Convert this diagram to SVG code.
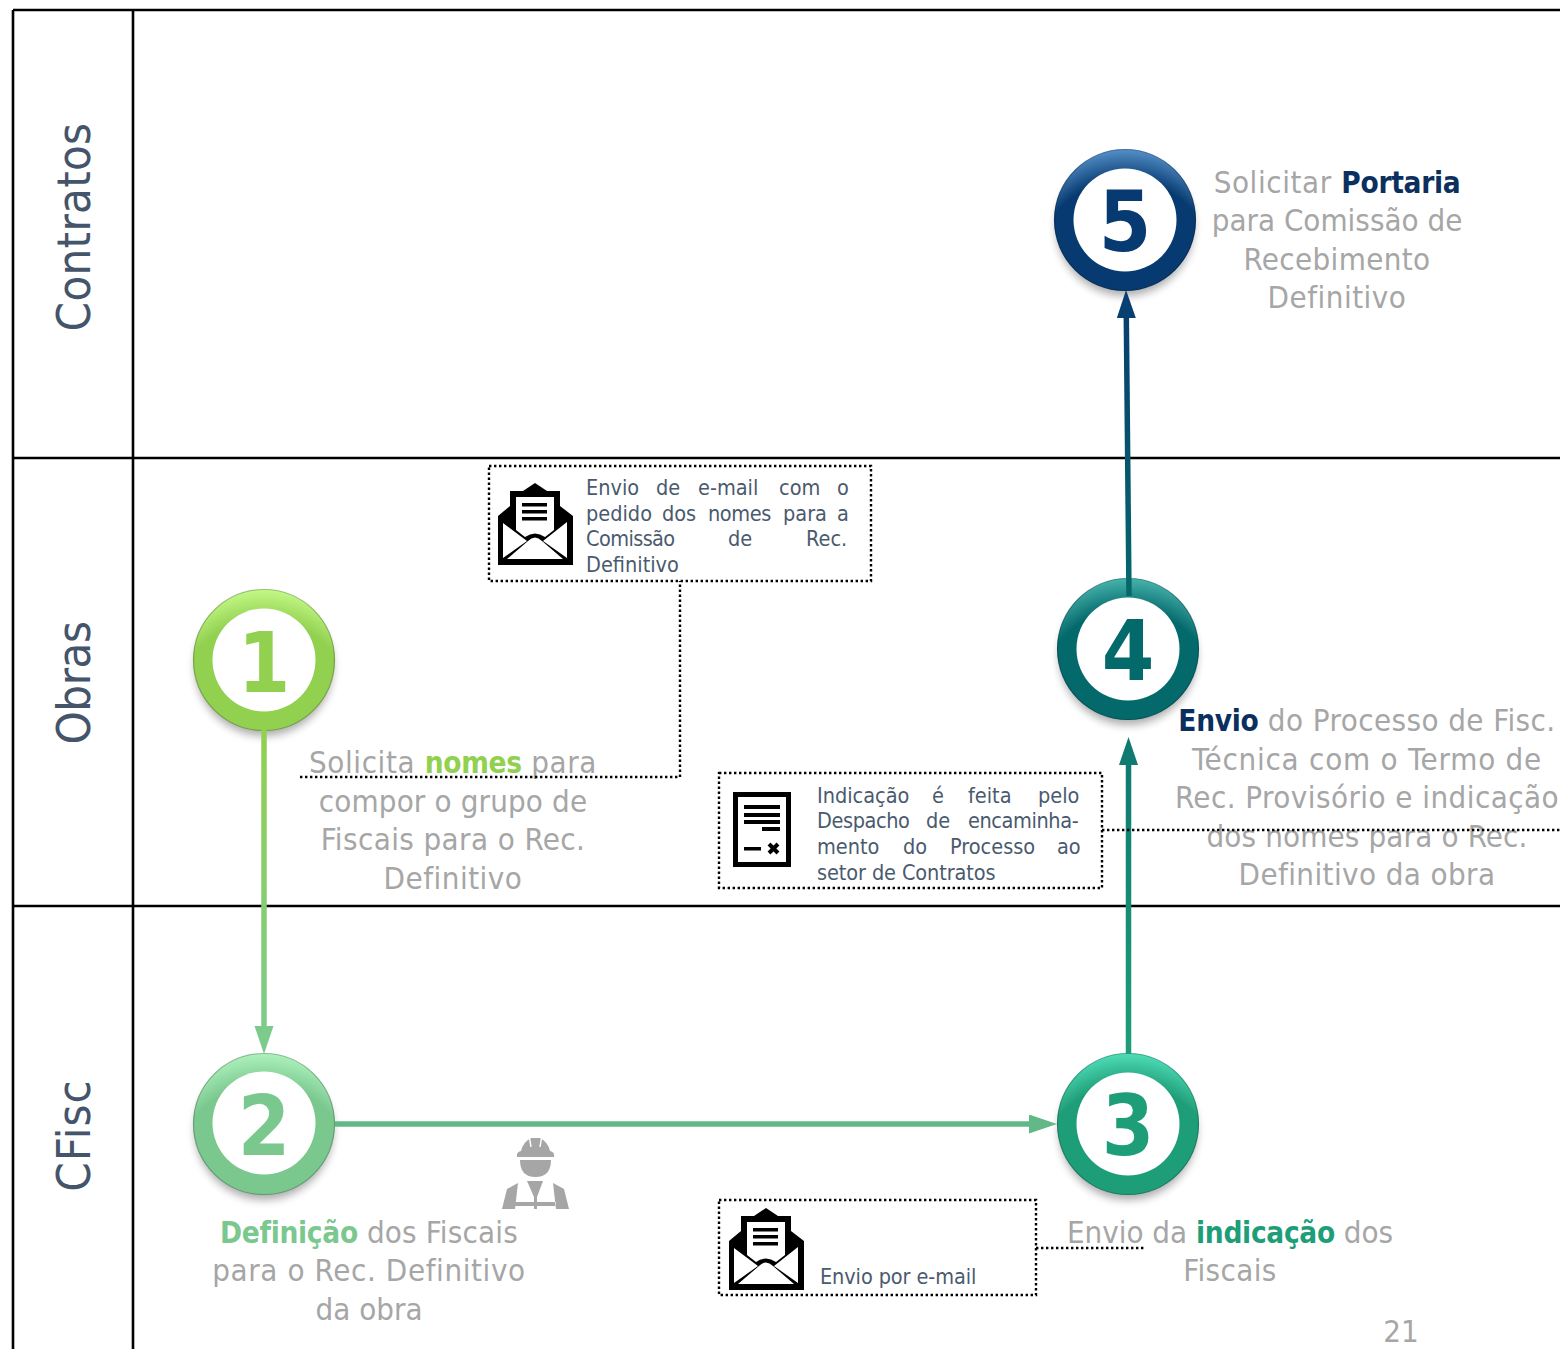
<svg xmlns="http://www.w3.org/2000/svg" xmlns:xlink="http://www.w3.org/1999/xlink" width="1560" height="1349" viewBox="0 0 1560 1349">
<style>
text{font-family:"DejaVu Sans","Noto Sans",sans-serif;font-stretch:condensed}
.lane{fill:none;stroke:#000;stroke-width:2.6}
.lt{font-size:47px;fill:#44546A;text-anchor:middle}
.d{font-size:31px;fill:#A6A6A6;text-anchor:middle}
.b{font-weight:bold;font-size:29.5px;letter-spacing:-.3px}
.s{font-size:21.5px;fill:#4A5A6E}
.n{font-size:84px;font-weight:bold;text-anchor:middle}
.dot{fill:none;stroke:#000;stroke-width:2.4;stroke-dasharray:2.4 2.6}
.c{fill:none;stroke-width:5.5}
.hole{fill:#fff}
.shadow{fill:#000;opacity:.32}
.edge{fill:none;stroke:#000;stroke-opacity:.22;stroke-width:1.2}
</style>
<defs>
<filter id="sh" x="-20%" y="-20%" width="140%" height="150%"><feGaussianBlur stdDeviation="4"/></filter>
<radialGradient id="h1" cx="50%" cy="85%" r="85%"><stop offset=".74" stop-color="#92D050"/><stop offset="1" stop-color="#C4FA88"/></radialGradient>
<radialGradient id="h2" cx="50%" cy="85%" r="85%"><stop offset=".74" stop-color="#7BC88F"/><stop offset="1" stop-color="#AEF2BE"/></radialGradient>
<radialGradient id="h3" cx="50%" cy="85%" r="85%"><stop offset=".74" stop-color="#1E9E78"/><stop offset="1" stop-color="#50DDB8"/></radialGradient>
<radialGradient id="h4" cx="50%" cy="85%" r="85%"><stop offset=".74" stop-color="#04696A"/><stop offset="1" stop-color="#48B4AE"/></radialGradient>
<radialGradient id="h5" cx="50%" cy="85%" r="85%"><stop offset=".74" stop-color="#063A70"/><stop offset="1" stop-color="#5590C8"/></radialGradient>
<linearGradient id="l1" gradientUnits="userSpaceOnUse" x1="264" y1="730" x2="264.010" y2="1030"><stop offset="0" stop-color="#92D050"/><stop offset="1" stop-color="#7DCB8A"/></linearGradient>
<linearGradient id="l3" gradientUnits="userSpaceOnUse" x1="1128.500" y1="1054" x2="1128.510" y2="763"><stop offset="0" stop-color="#1E9E78"/><stop offset="1" stop-color="#0F7A70"/></linearGradient>
<linearGradient id="l2" gradientUnits="userSpaceOnUse" x1="1129" y1="596" x2="1126" y2="316"><stop offset="0" stop-color="#04696A"/><stop offset="1" stop-color="#073F70"/></linearGradient>
<marker id="a1" markerUnits="userSpaceOnUse" markerWidth="30" markerHeight="20" refX="2" refY="9.500" orient="auto"><path d="M0 0L28 9.500L0 19z" fill="#7DCB8A"/></marker>
<marker id="a2" markerUnits="userSpaceOnUse" markerWidth="30" markerHeight="20" refX="2" refY="9.500" orient="auto"><path d="M0 0L28 9.500L0 19z" fill="#62B886"/></marker>
<marker id="a3" markerUnits="userSpaceOnUse" markerWidth="30" markerHeight="20" refX="2" refY="9.500" orient="auto"><path d="M0 0L28 9.500L0 19z" fill="#0F7A70"/></marker>
<marker id="a4" markerUnits="userSpaceOnUse" markerWidth="30" markerHeight="20" refX="2" refY="9.500" orient="auto"><path d="M0 0L28 9.500L0 19z" fill="#073F70"/></marker>
<g id="env">
<path d="M535 483L547 491H560V506L573 516V565H498V516L510 506V491H523Z" fill="#000"/>
<path d="M516 497H554V530L545 537Q535 530 525 537L516 530Z" fill="#fff"/>
<path d="M522 503H547V506.500H522ZM522 510H547V513.500H522ZM522 517H547V520.500H522Z" fill="#000"/>
<path d="M503 523L527 541L503 558ZM567 522L543 541L567 558ZM507 559L528 541Q535 534 542 541L563 559Z" fill="#fff"/>
</g>
</defs>

<g id="lanes">
<path class="lane" d="M13 10H1560M13 458H1560M13 906H1560M13 10V1349M133 10V1349"/>
<text class="lt" transform="translate(90 227) rotate(-90)" letter-spacing=".25">Contratos</text>
<text class="lt" transform="translate(90 683) rotate(-90)" letter-spacing="-.5">Obras</text>
<text class="lt" transform="translate(90 1135.500) rotate(-90)" letter-spacing="1">CFisc</text>
</g>

<g id="node1"><circle class="shadow" cx="264" cy="667" r="69" filter="url(#sh)"/><circle cx="264" cy="660" r="71" fill="url(#h1)"/><circle class="edge" cx="264" cy="660" r="70.500"/><circle class="hole" cx="264" cy="660" r="51.500"/><text class="n" x="264" y="692" fill="#92D050">1</text></g>
<g id="node2"><circle class="shadow" cx="264" cy="1131" r="69" filter="url(#sh)"/><circle cx="264" cy="1124" r="71" fill="url(#h2)"/><circle class="edge" cx="264" cy="1124" r="70.500"/><circle class="hole" cx="264" cy="1123" r="51.500"/><text class="n" x="264" y="1155" fill="#7BC88F">2</text></g>
<g id="node3"><circle class="shadow" cx="1128" cy="1131" r="69" filter="url(#sh)"/><circle cx="1128" cy="1124" r="71" fill="url(#h3)"/><circle class="edge" cx="1128" cy="1124" r="70.500"/><circle class="hole" cx="1128" cy="1124" r="51.500"/><text class="n" x="1128" y="1155" fill="#1E9E78">3</text></g>
<g id="node4"><circle class="shadow" cx="1128" cy="656" r="69" filter="url(#sh)"/><circle cx="1128" cy="649" r="71" fill="url(#h4)"/><circle class="edge" cx="1128" cy="649" r="70.500"/><circle class="hole" cx="1128" cy="649" r="51.500"/><text class="n" x="1128" y="680" fill="#04696A">4</text></g>
<g id="node5"><circle class="shadow" cx="1125" cy="227" r="69" filter="url(#sh)"/><circle cx="1125" cy="220" r="71" fill="url(#h5)"/><circle class="edge" cx="1125" cy="220" r="70.500"/><circle class="hole" cx="1125" cy="220" r="51.500"/><text class="n" x="1125" y="251" fill="#063A70">5</text></g>

<g id="connectors">
<path class="c" d="M264 730V1028" stroke="url(#l1)" marker-end="url(#a1)"/>
<path class="c" d="M335 1124H1031" stroke="#62B886" marker-end="url(#a2)"/>
<path class="c" d="M1128.500 1054V763" stroke="url(#l3)" marker-end="url(#a3)"/>
<path class="c" d="M1129 596L1126.300 316" stroke="url(#l2)" marker-end="url(#a4)"/>
</g>

<g id="label1"><text class="d"><tspan x="453" y="773" letter-spacing=".6">Solicita <tspan class="b" fill="#92D050">nomes</tspan> para</tspan><tspan x="453" y="812" letter-spacing=".15">compor o grupo de</tspan><tspan x="453" y="850" letter-spacing=".4">Fiscais para o Rec.</tspan><tspan x="453" y="889" letter-spacing=".5">Definitivo</tspan></text></g>
<g id="label2"><text class="d"><tspan x="369" y="1243" letter-spacing=".2"><tspan class="b" fill="#7BC88F">Definição</tspan> dos Fiscais</tspan><tspan x="369" y="1281" letter-spacing=".6">para o Rec. Definitivo</tspan><tspan x="369" y="1320">da obra</tspan></text></g>
<g id="label3"><text class="d"><tspan x="1230" y="1243"><tspan>Envio da </tspan><tspan class="b" fill="#1E9E78">indicação</tspan> dos</tspan><tspan x="1230" y="1281" letter-spacing=".4">Fiscais</tspan></text></g>
<g id="label4"><text class="d"><tspan x="1367" y="731" letter-spacing=".43"><tspan class="b" fill="#0B2F5E">Envio</tspan> do Processo de Fisc.</tspan><tspan x="1367" y="770" letter-spacing=".77">Técnica com o Termo de</tspan><tspan x="1367" y="808" letter-spacing=".45">Rec. Provisório e indicação</tspan><tspan x="1367" y="847" letter-spacing=".15">dos nomes para o Rec.</tspan><tspan x="1367" y="885" letter-spacing=".4">Definitivo da obra</tspan></text></g>
<g id="label5"><text class="d"><tspan x="1337" y="193" letter-spacing=".6">Solicitar <tspan class="b" fill="#0B2F5E">Portaria</tspan></tspan><tspan x="1337" y="231">para Comissão de</tspan><tspan x="1337" y="270" letter-spacing=".35">Recebimento</tspan><tspan x="1337" y="308" letter-spacing=".5">Definitivo</tspan></text></g>

<g id="note-email">
<rect class="dot" x="489" y="466" width="382" height="115"/>
<use xlink:href="#env" href="#env"/>
<text class="s"><tspan x="586" y="495">Envio</tspan><tspan x="656" y="495">de</tspan><tspan x="698" y="495">e-mail</tspan><tspan x="779" y="495">com</tspan><tspan x="837" y="495">o</tspan><tspan x="586" y="521">pedido</tspan><tspan x="662" y="521">dos</tspan><tspan x="708" y="521" letter-spacing="-.4">nomes</tspan><tspan x="783" y="521">para</tspan><tspan x="837" y="521">a</tspan><tspan x="586" y="546" letter-spacing="-.6">Comissão</tspan><tspan x="728" y="546">de</tspan><tspan x="806" y="546">Rec.</tspan><tspan x="586" y="572">Definitivo</tspan></text>
</g>
<g id="note-despacho">
<rect class="dot" x="719" y="773" width="383" height="115"/>
<rect x="735.500" y="794.500" width="53" height="70" fill="#fff" stroke="#000" stroke-width="5"/>
<path d="M744 805H780V809H744ZM744 813H780V817H744ZM744 820H780V824H744ZM762 827H780V831H762ZM744 847H761V850.500H744Z" fill="#000"/>
<path d="M769 844L778 853M778 844L769 853" stroke="#000" stroke-width="4" fill="none"/>
<text class="s"><tspan x="817" y="803">Indicação</tspan><tspan x="932" y="803">é</tspan><tspan x="968" y="803">feita</tspan><tspan x="1038" y="803">pelo</tspan><tspan x="817" y="828" letter-spacing="-.4">Despacho</tspan><tspan x="926" y="828">de</tspan><tspan x="968" y="828" letter-spacing="-.4">encaminha-</tspan><tspan x="817" y="854">mento</tspan><tspan x="903" y="854">do</tspan><tspan x="950" y="854">Processo</tspan><tspan x="1057" y="854">ao</tspan><tspan x="817" y="880" letter-spacing="-.1">setor de Contratos</tspan></text>
</g>
<g id="note-envio">
<rect class="dot" x="719" y="1200" width="317" height="95"/>
<use xlink:href="#env" href="#env" transform="translate(231 725)"/>
<text class="s" x="820" y="1284" letter-spacing="-.1">Envio por e-mail</text>
</g>
<g id="worker" fill="#A6A6A6">
<path d="M517 1157Q516 1152 521 1151Q523 1142 531 1138H540Q548 1142 550 1151Q555 1152 554 1157Z"/>
<path d="M529.500 1138L531 1147M541.500 1138L540 1147" stroke="#fff" stroke-width="1.500" fill="none"/>
<path d="M520 1160H551Q551 1177 535.500 1177Q520 1177 520 1160Z"/>
<path d="M502 1209L507 1189L518 1183L515 1209ZM569 1209L564 1189L553 1183L556 1209ZM527 1181H543L537 1197V1209H534V1197ZM515 1202H556V1206H515Z"/>
</g>
<g id="dotted">
<path class="dot" d="M300 777H680V581"/>
<path class="dot" d="M1102 830H1560"/>
<path class="dot" d="M1036 1248H1146"/>
</g>
<text id="page" class="d" x="1401" y="1341.500">21</text>
</svg>
